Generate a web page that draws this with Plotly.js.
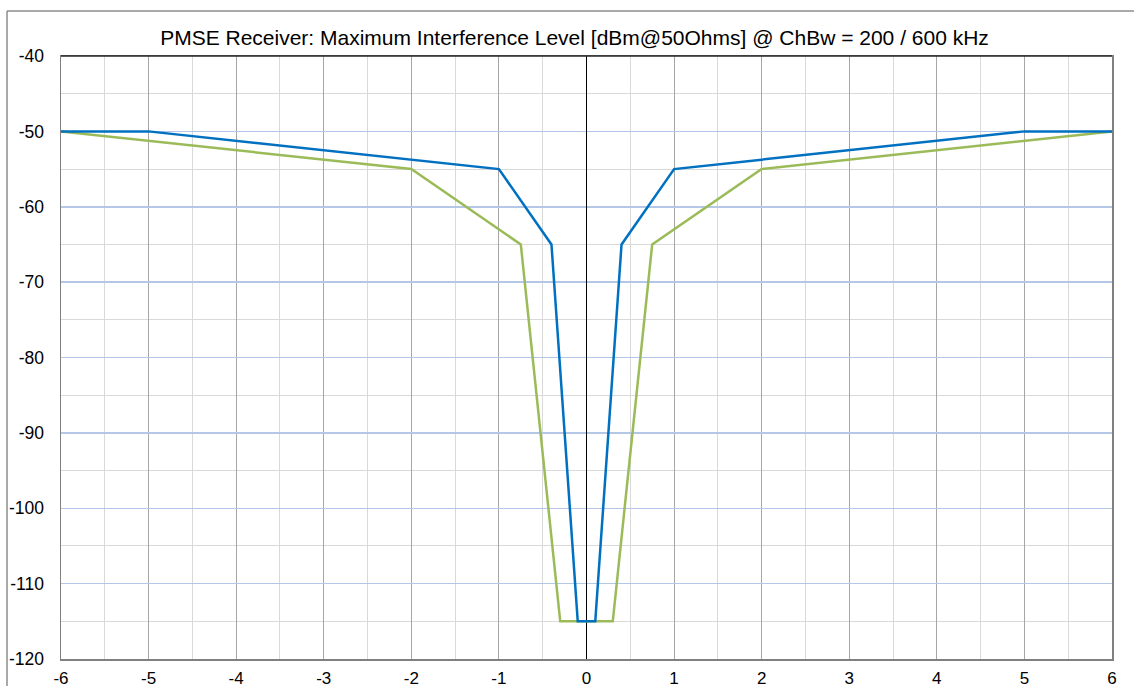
<!DOCTYPE html>
<html><head><meta charset="utf-8">
<script src="https://cdn.plot.ly/plotly-3.0.1.min.js"></script>
<style>html,body{margin:0;padding:0;background:#fff;}#chart{width:1134px;height:686px;}</style>
</head><body><div id="chart"></div>
<script>
const titleText = "PMSE Receiver: Maximum Interference Level [dBm@50Ohms] @ ChBw = 200 / 600 kHz";
const xTickVals = [-6, -5, -4, -3, -2, -1, 0, 1, 2, 3, 4, 5, 6];
const xTickText = ["-6", "-5", "-4", "-3", "-2", "-1", "0", "1", "2", "3", "4", "5", "6"];
const yTickVals = [-120, -110, -100, -90, -80, -70, -60, -50, -40];
const yTickText = ["-120", "-110", "-100", "-90", "-80", "-70", "-60", "-50", "-40"];
const blueX = [-6, -5, -1, -0.4, -0.1, 0.1, 0.4, 1, 5, 6];
const blueY = [-50, -50, -55, -65, -115, -115, -65, -55, -50, -50];
const greenX = [-6, -2, -0.75, -0.3, 0.3, 0.75, 2, 6];
const greenY = [-50, -55, -65, -115, -115, -65, -55, -50];

const W = 1134, H = 686, L = 61, R = 22, T = 56, B = 27;
const pw = W - L - R, ph = H - T - B;
const px = v => (v - L) / pw, py = v => 1 - (v - T) / ph;

const data = [
  {x: greenX, y: greenY, mode: 'lines', line: {color: '#9bbb59', width: 2.5}, hoverinfo: 'x+y'},
  {x: blueX, y: blueY, mode: 'lines', line: {color: '#0070c0', width: 2.5}, hoverinfo: 'x+y'}
];
const layout = {
  width: W, height: H, showlegend: false,
  margin: {l: L, r: R, t: T, b: B, pad: 0},
  paper_bgcolor: '#fff', plot_bgcolor: '#fff',
  font: {family: 'Liberation Sans, Arial, sans-serif', size: 17, color: '#000'},
  title: {text: titleText, font: {size: 21, color: '#000'}, x: 574.5 / W, xref: 'container', xanchor: 'center', y: 1 - 38 / H, yref: 'container', yanchor: 'middle'},
  xaxis: {range: [-6, 6], tickmode: 'array', tickvals: xTickVals, ticktext: xTickText,
    gridcolor: '#a6a6a6', gridwidth: 1,
    minor: {dtick: 0.5, tick0: 0, showgrid: true, gridcolor: '#d9d9d9', gridwidth: 1},
    zeroline: true, zerolinecolor: '#000', zerolinewidth: 1,
    showline: true, linecolor: '#808080', linewidth: 1.5, mirror: true,
    ticks: '', ticklabelstandoff: 3, tickfont: {size: 17}},
  yaxis: {range: [-120, -40], tickmode: 'array', tickvals: yTickVals, ticktext: yTickText,
    gridcolor: '#b4c7e7', gridwidth: 1.5,
    minor: {dtick: 5, tick0: 0, showgrid: true, gridcolor: '#d9d9d9', gridwidth: 1},
    zeroline: false, showline: true, linecolor: '#808080', linewidth: 1.5, mirror: true,
    ticks: '', ticklabelstandoff: 12, tickfont: {size: 17.5}},
  shapes: [
    {type: 'line', xref: 'paper', yref: 'paper', x0: px(7), x1: px(7), y0: py(11), y1: py(H + 5), line: {color: '#8c8c8c', width: 1.5}},
    {type: 'line', xref: 'paper', yref: 'paper', x0: px(7), x1: px(W + 5), y0: py(11), y1: py(11), line: {color: '#8c8c8c', width: 1.5}},
    {type: 'line', xref: 'paper', yref: 'paper', x0: 0, x1: 1, y0: 1, y1: 1, line: {color: '#262626', width: 1.5}}
  ]
};
Plotly.newPlot('chart', data, layout, {displayModeBar: false, staticPlot: true});
</script></body></html>
